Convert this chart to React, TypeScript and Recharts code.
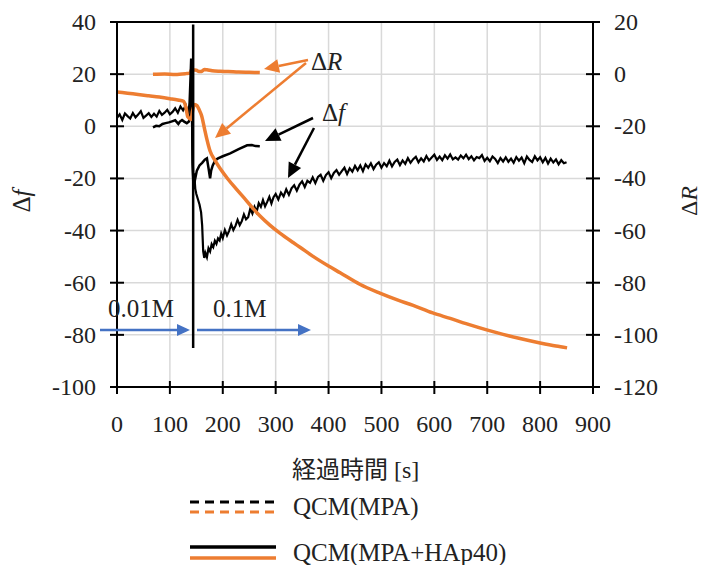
import { LineChart, Line, XAxis, YAxis, CartesianGrid, ReferenceLine } from 'recharts'

const W = 703
const H = 565
const SERIF = "'Liberation Serif', 'Noto Sans CJK JP', serif"
const ORANGE = '#ED7D31'
const BLUE = '#4472C4'
const INK = '#222'

const xTicks = [0, 100, 200, 300, 400, 500, 600, 700, 800, 900]
const fTicks = [-100, -80, -60, -40, -20, 0, 20, 40]
const rTicks = [-120, -100, -80, -60, -40, -20, 0, 20]

// QCM(MPA) — short run, Δf
const mpaFTime = [68, 74, 80, 86, 92, 98, 104, 110, 113, 116, 119, 123, 127, 132, 136, 139, 141, 142, 143, 145, 147, 151, 156, 161, 166, 170, 173, 176, 178, 181, 186, 191, 200, 214, 230, 246, 255, 262, 270]
const mpaFVal = [-0.4, 0.2, 0.0, 0.9, 1.2, 1.5, 1.9, 2.3, 1.6, 0.9, 1.8, 2.4, 1.8, 1.2, 1.8, 5, 16, 4, -14, -24, -21, -17, -15, -14, -12.8, -12.3, -16, -20, -17, -15, -13, -12.3, -11.5, -10.4, -8.8, -7.3, -7.2, -7.6, -7.7]

// QCM(MPA) — short run, ΔR
const mpaRTime = [68, 90, 110, 130, 138, 141, 145, 150, 155, 160, 165, 170, 180, 195, 210, 230, 250, 270]
const mpaRVal = [0.0, 0.1, -0.1, 0.2, 0.4, 1.8, 1.6, 1.5, 1.0, 1.0, 1.8, 1.7, 1.3, 1.1, 1.0, 0.8, 0.7, 0.6]

// QCM(MPA+HAp40) — Δf
const hapFTime = [
  0, 5, 10, 15, 20, 25, 30, 35, 40, 45, 50, 55, 60, 65, 70, 75, 80, 85, 90, 95, 100, 105, 110, 115, 120, 125, 130, 133, 135,
  137, 139, 140, 141, 142, 143, 144, 146, 148, 150, 153, 156, 159, 161, 163, 165, 167, 170, 173, 176, 179, 182, 185, 188, 191,
  194, 197, 200, 204, 208, 212, 216, 220, 224, 228, 232, 236, 240, 244, 248, 252, 256, 260, 264, 268, 272, 276, 280, 284, 288,
  292, 296, 300, 305, 310, 315, 320, 325, 330, 335, 340, 345, 350, 355, 360, 365, 370, 375, 380, 385, 390, 395, 400, 405, 410,
  415, 420, 425, 430, 435, 440, 445, 450, 455, 460, 465, 470, 475, 480, 485, 490, 495, 500, 505, 510, 515, 520, 525, 530, 535,
  540, 545, 550, 555, 560, 565, 570, 575, 580, 585, 590, 595, 600, 605, 610, 615, 620, 625, 630, 635, 640, 645, 650, 655, 660,
  665, 670, 675, 680, 685, 690, 695, 700, 705, 710, 715, 720, 725, 730, 735, 740, 745, 750, 755, 760, 765, 770, 775, 780, 785,
  790, 795, 800, 805, 810, 815, 820, 825, 830, 835, 840, 845, 850,
]
const hapFVal = [
  3.2, 4.6, 2.4, 4.9, 3.9, 3.0, 5.1, 3.4, 4.5, 5.8, 3.2, 4.1, 5.0, 3.6, 4.8, 3.7, 5.9, 4.4, 5.2, 6.3, 4.6, 5.5, 6.9, 5.2, 7.6, 6.1, 8.0, 5.9, 5.0,
  9, 20, 26, 18, 0, -15, -22, -18, -24, -26, -28, -30, -33, -38, -48, -50.5, -48.5, -50.2, -46.8, -48, -45.2, -46.3, -43.9, -45.1, -43.0,
  -43.8, -41.2, -42.9, -39.8, -41.9, -40.1, -37.6, -39.8, -38.2, -35.9, -37.9, -36.4, -33.8, -35.7, -34.9, -31.6, -33.5, -30.9, -32.8, -29.5, -30.9, -28.3, -30.7, -29.0, -27.1,
  -29.6, -27.2, -26.0, -28.1, -25.4, -26.9, -24.2, -26.3, -23.8, -22.6, -24.7, -22.4, -21.1, -23.3, -20.9, -21.7, -19.6, -21.8, -19.4, -18.6, -20.9, -18.7, -17.6, -19.9, -17.9,
  -16.8, -18.6, -17.2, -15.9, -18.3, -16.1, -17.4, -15.2, -16.9, -15.0, -17.2, -14.6, -15.9, -14.2, -16.4, -14.7, -13.8, -15.9, -14.1, -15.3, -13.2, -15.4, -13.7, -12.8, -14.9,
  -13.1, -14.4, -12.2, -14.0, -12.6, -11.7, -13.8, -12.3, -13.5, -11.4, -13.1, -12.0, -10.9, -12.9, -11.6, -13.0, -11.1, -12.4, -10.8, -12.7, -11.9, -12.8, -11.2, -12.3, -10.9,
  -12.6, -11.5, -13.1, -11.8, -12.2, -11.0, -13.3, -12.1, -13.4, -11.6, -12.5, -14.1, -12.2, -13.5, -11.9, -13.6, -12.4, -14.0, -11.8, -13.2, -12.0, -14.2, -11.6, -12.9, -13.7,
  -11.5, -13.1, -11.9, -13.8, -12.1, -14.3, -12.4, -13.9, -12.7, -14.6, -13.0, -14.2, -13.8,
]

// QCM(MPA+HAp40) — ΔR
const hapRTime = [0, 20, 40, 60, 80, 100, 115, 126, 130, 134, 140, 143, 147, 151, 155, 160, 165, 170, 176, 185, 195, 210, 227, 245, 257, 270, 289, 308, 333, 346, 370, 400, 422, 459, 497, 530, 560, 597, 630, 660, 699, 730, 760, 800, 830, 851]
const hapRVal = [-6.8, -7.3, -7.8, -8.3, -8.8, -9.4, -9.9, -10.4, -12.5, -16.4, -17.4, -14, -11.6, -12, -13.5, -16, -20.5, -25, -29.5, -33, -36.2, -40.3, -44.4, -48.6, -51.5, -54.3, -57.9, -61, -64.6, -66.4, -69.8, -73.6, -76.2, -80.6, -84, -86.6, -88.7, -91.6, -93.7, -95.7, -98.1, -99.8, -101.3, -103.1, -104.3, -105]

const toPts = (ts: number[], vs: number[], key: string) => ts.map((t, i) => ({ t, [key]: vs[i] }))

const mpaF = toPts(mpaFTime, mpaFVal, 'f')
const mpaR = toPts(mpaRTime, mpaRVal, 'r')
const hapF = toPts(hapFTime, hapFVal, 'f')
const hapR = toPts(hapRTime, hapRVal, 'r')

const labelStyle = { fontFamily: SERIF }

function LeftTick({ x, y, payload }: any) {
  return (
    <g>
      <line x1={x - 7} x2={x + 7} y1={y} y2={y} stroke="#000" strokeWidth={2} />
      <text x={x - 21} y={y} dy={8} textAnchor="end" fontSize={24} fill={INK} style={labelStyle}>
        {payload.value}
      </text>
    </g>
  )
}

function RightTick({ x, y, payload }: any) {
  return (
    <g>
      <line x1={x - 7} x2={x + 7} y1={y} y2={y} stroke="#000" strokeWidth={2} />
      <text x={x + 21} y={y} dy={8} textAnchor="start" fontSize={24} fill={INK} style={labelStyle}>
        {payload.value}
      </text>
    </g>
  )
}

function BottomTick({ x, y, payload }: any) {
  return (
    <g>
      <line x1={x} x2={x} y1={y - 6} y2={y + 7} stroke="#000" strokeWidth={2} />
      <text x={x} y={y + 45} textAnchor="middle" fontSize={24} fill={INK} style={labelStyle}>
        {payload.value}
      </text>
    </g>
  )
}

function Arrow({ x1, y1, x2, y2, color, head = 13, half = 6 }: any) {
  const dx = x2 - x1
  const dy = y2 - y1
  const len = Math.hypot(dx, dy)
  const ux = dx / len
  const uy = dy / len
  const bx = x2 - ux * head
  const by = y2 - uy * head
  return (
    <g>
      <line x1={x1} y1={y1} x2={bx} y2={by} stroke={color} strokeWidth={2.5} />
      <polygon
        points={`${x2},${y2} ${bx - uy * half},${by + ux * half} ${bx + uy * half},${by - ux * half}`}
        fill={color}
      />
    </g>
  )
}

export default function App() {
  return (
    <div style={{ position: 'absolute', left: 0, top: 0, width: W, height: H, background: '#fff', fontFamily: SERIF }}>
      <LineChart width={W} height={H} margin={{ top: 22, right: 50, left: 57, bottom: 148 }}>
        <CartesianGrid yAxisId="f" stroke="#d9d9d9" strokeWidth={1.5} />
        <XAxis
          type="number"
          dataKey="t"
          domain={[0, 900]}
          ticks={xTicks}
          height={30}
          allowDataOverflow
          axisLine={{ stroke: '#000', strokeWidth: 2 }}
          tickLine={false}
          tickSize={0}
          tickMargin={0}
          tick={<BottomTick />}
        />
        <YAxis
          yAxisId="f"
          domain={[-100, 40]}
          ticks={fTicks}
          width={60}
          allowDataOverflow
          axisLine={{ stroke: '#000', strokeWidth: 2 }}
          tickLine={false}
          tickSize={0}
          tickMargin={0}
          tick={<LeftTick />}
        />
        <YAxis
          yAxisId="R"
          orientation="right"
          domain={[-120, 20]}
          ticks={rTicks}
          width={60}
          allowDataOverflow
          axisLine={{ stroke: '#000', strokeWidth: 2 }}
          tickLine={false}
          tickSize={0}
          tickMargin={0}
          tick={<RightTick />}
        />
        <ReferenceLine yAxisId="f" y={40} stroke="#000" strokeWidth={2} />
        <Line data={mpaF} dataKey="f" yAxisId="f" type="linear" stroke="#000" strokeWidth={2.5} dot={false} isAnimationActive={false} />
        <Line data={mpaR} dataKey="r" yAxisId="R" type="monotone" stroke={ORANGE} strokeWidth={3.5} dot={false} isAnimationActive={false} />
        <Line data={hapF} dataKey="f" yAxisId="f" type="linear" stroke="#000" strokeWidth={2.2} dot={false} isAnimationActive={false} />
        <Line data={hapR} dataKey="r" yAxisId="R" type="monotone" stroke={ORANGE} strokeWidth={3.5} dot={false} isAnimationActive={false} />
        <ReferenceLine
          yAxisId="f"
          segment={[{ x: 144, y: 39 }, { x: 144, y: -85 }]}
          stroke="#000"
          strokeWidth={2.5}
        />
      </LineChart>

      <svg
        width={W}
        height={H}
        style={{ position: 'absolute', left: 0, top: 0, pointerEvents: 'none', fontFamily: SERIF }}
      >
        {/* concentration arrows */}
        <Arrow x1={100} y1={330} x2={190} y2={330} color={BLUE} />
        <Arrow x1={197} y1={330} x2={311} y2={330} color={BLUE} />
        <text x={108} y={317} fontSize={25} fill={INK}>0.01M</text>
        <text x={213} y={317} fontSize={25} fill={INK}>0.1M</text>

        {/* ΔR callout */}
        <Arrow x1={308} y1={60} x2={264} y2={69} color={ORANGE} head={15} half={7} />
        <Arrow x1={306} y1={63} x2={215} y2={138} color={ORANGE} head={15} half={7} />
        <text x={311} y={70} fontSize={25} fill={INK}>
          Δ<tspan fontStyle="italic">R</tspan>
        </text>

        {/* Δf callout */}
        <Arrow x1={313} y1={118} x2={265} y2={141} color="#000" head={15} half={7} />
        <Arrow x1={314} y1={128} x2={288} y2={178} color="#000" head={15} half={7} />
        <text x={322} y={121} fontSize={25} fill={INK}>
          Δ<tspan fontStyle="italic">f</tspan>
        </text>

        {/* axis titles */}
        <text transform="translate(30,201) rotate(-90)" textAnchor="middle" fontSize={25} fill={INK}>
          Δ<tspan fontStyle="italic">f</tspan>
        </text>
        <text transform="translate(697,201) rotate(-90)" textAnchor="middle" fontSize={24} fill={INK}>
          Δ<tspan fontStyle="italic">R</tspan>
        </text>
        <text x={292} y={478} fontSize={24} fill={INK}>経過時間 [s]</text>

        {/* legend */}
        <line x1={190} x2={276} y1={502} y2={502} stroke="#000" strokeWidth={3} strokeDasharray="9 6" />
        <line x1={190} x2={276} y1={512} y2={512} stroke={ORANGE} strokeWidth={3} strokeDasharray="9 6" />
        <text x={293} y={515} fontSize={25} fill={INK}>QCM(MPA)</text>
        <line x1={190} x2={276} y1={547} y2={547} stroke="#000" strokeWidth={3.5} />
        <line x1={190} x2={276} y1={558} y2={558} stroke={ORANGE} strokeWidth={3.5} />
        <text x={293} y={561} fontSize={25} fill={INK}>QCM(MPA+HAp40)</text>
      </svg>
    </div>
  )
}
